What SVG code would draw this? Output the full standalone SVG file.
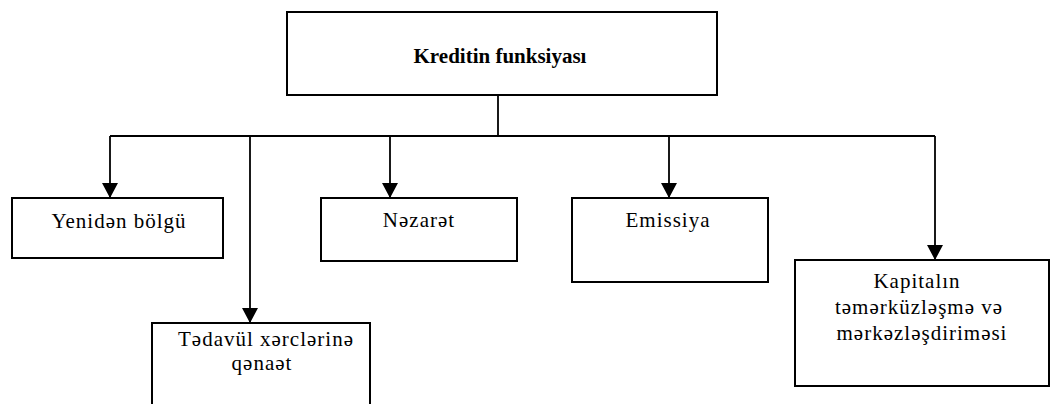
<svg xmlns="http://www.w3.org/2000/svg" width="1055" height="404" viewBox="0 0 1055 404">
  <style>
    .box { fill: #fff; stroke: #000; stroke-width: 2; }
    .wire { fill: none; stroke: #000; stroke-width: 1.8; }
    .label { font-family: "Liberation Serif", "Times New Roman", serif; font-size: 21px; fill: #000; text-anchor: middle; letter-spacing: 1px; }
    .title { font-family: "Liberation Serif", "Times New Roman", serif; font-size: 21px; font-weight: bold; fill: #000; text-anchor: middle; }
  </style>
  <defs>
    <marker id="arrow" viewBox="0 0 15 16" refX="15" refY="8" markerWidth="15" markerHeight="16" markerUnits="userSpaceOnUse" orient="auto">
      <path d="M0,0 L15,8 L0,16 Z" fill="#000"/>
    </marker>
  </defs>

  <rect width="1055" height="404" fill="#fff"/>

  <g id="connectors">
    <line class="wire" x1="498" y1="95" x2="498" y2="136"/>
    <line class="wire" x1="110" y1="136" x2="935" y2="136"/>
    <line class="wire" x1="110" y1="136" x2="110" y2="198" marker-end="url(#arrow)"/>
    <line class="wire" x1="250" y1="136" x2="250" y2="323" marker-end="url(#arrow)"/>
    <line class="wire" x1="390" y1="136" x2="390" y2="198" marker-end="url(#arrow)"/>
    <line class="wire" x1="669" y1="136" x2="669" y2="198" marker-end="url(#arrow)"/>
    <line class="wire" x1="935" y1="136" x2="935" y2="260" marker-end="url(#arrow)"/>
  </g>

  <g id="node-root">
    <rect class="box" x="287" y="12" width="430" height="83"/>
    <text class="title" x="500" y="63">Kreditin funksiyası</text>
  </g>

  <g id="node-yeniden">
    <rect class="box" x="12" y="198" width="211" height="60"/>
    <text class="label" x="119" y="228">Yenidən bölgü</text>
  </g>

  <g id="node-tedavul">
    <!-- bottom edge runs past the page -->
    <path class="box" d="M152,410 V323 H370 V410"/>
    <text class="label" x="266" y="346">Tədavül xərclərinə</text>
    <text class="label" x="262" y="370">qənaət</text>
  </g>

  <g id="node-nezaret">
    <rect class="box" x="321" y="198" width="196" height="63"/>
    <text class="label" x="419" y="227">Nəzarət</text>
  </g>

  <g id="node-emissiya">
    <rect class="box" x="572" y="198" width="196" height="84"/>
    <text class="label" x="668" y="227">Emissiya</text>
  </g>

  <g id="node-kapital">
    <rect class="box" x="795" y="260" width="254" height="126"/>
    <text class="label" x="917" y="288">Kapitalın</text>
    <text class="label" x="919" y="314">təmərküzləşmə və</text>
    <text class="label" x="922" y="340">mərkəzləşdiriməsi</text>
  </g>
</svg>
